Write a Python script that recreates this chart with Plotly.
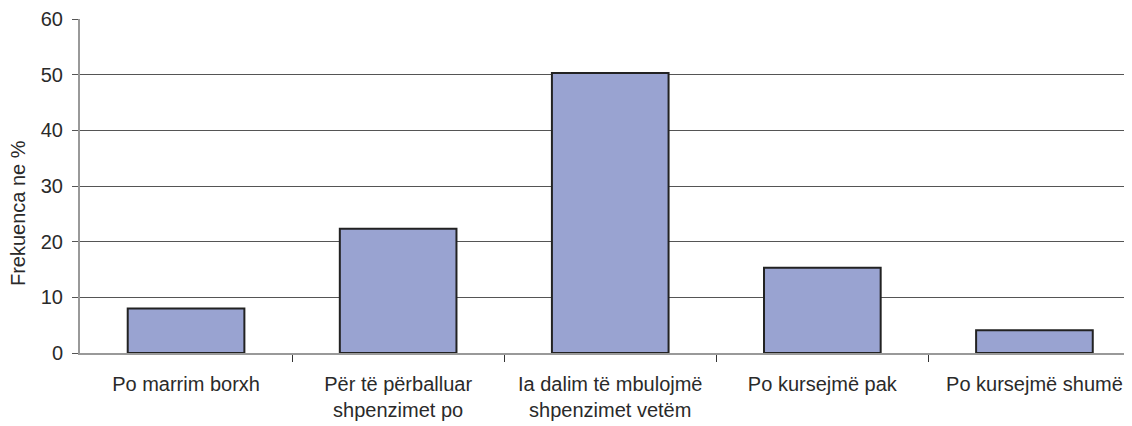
import plotly.graph_objects as go

categories = ["Po marrim borxh", "Për të përballuar<br>shpenzimet po",
              "Ia dalim të mbulojmë<br>shpenzimet vetëm", "Po kursejmë pak", "Po kursejmë shumë"]
values = [8, 22.3, 50.3, 15.3, 4.1]
y_ticks = [0, 10, 20, 30, 40, 50, 60]
y_title = "Frekuenca ne %"

fig = go.Figure(go.Bar(
    x=list(range(len(categories))), y=values, width=0.55,
    marker=dict(color="#99A3D1", line=dict(color="#222222", width=2)),
))
fig.update_layout(
    width=1132, height=426,
    margin=dict(l=72, r=8, t=11, b=81),
    paper_bgcolor="white", plot_bgcolor="white",
    showlegend=False,
    font=dict(family="Liberation Sans, Arial, sans-serif", size=20, color="#2a2a2a"),
)
fig.update_xaxes(
    range=[-0.5, 4.46], tickmode="array", tickvals=list(range(len(categories))),
    ticktext=categories, showgrid=False, zeroline=False, automargin=False,
    showline=True, linecolor="#999999", linewidth=2,
    ticks="", ticklabelstandoff=12, tickfont=dict(size=20),
)
fig.update_xaxes(minor=dict(tickmode="array", tickvals=[0.5, 1.5, 2.5, 3.5], ticks="outside",
                            ticklen=7, tickcolor="#333333", tickwidth=1, showgrid=False))
fig.update_yaxes(
    range=[0, 60], tickvals=y_ticks, showgrid=True, gridcolor="#555555", gridwidth=1,
    zeroline=False, showline=True, linecolor="#999999", linewidth=2, automargin=False,
    ticks="outside", ticklen=6, tickcolor="#555555", tickfont=dict(size=20),
    ticklabelstandoff=5,
)
fig.add_annotation(
    text=y_title, textangle=-90, xref="paper", yref="paper",
    x=-0.0589, y=0.419, xanchor="center", yanchor="middle", showarrow=False,
    font=dict(size=20, color="#2a2a2a"),
)
fig.write_html("out.html")
